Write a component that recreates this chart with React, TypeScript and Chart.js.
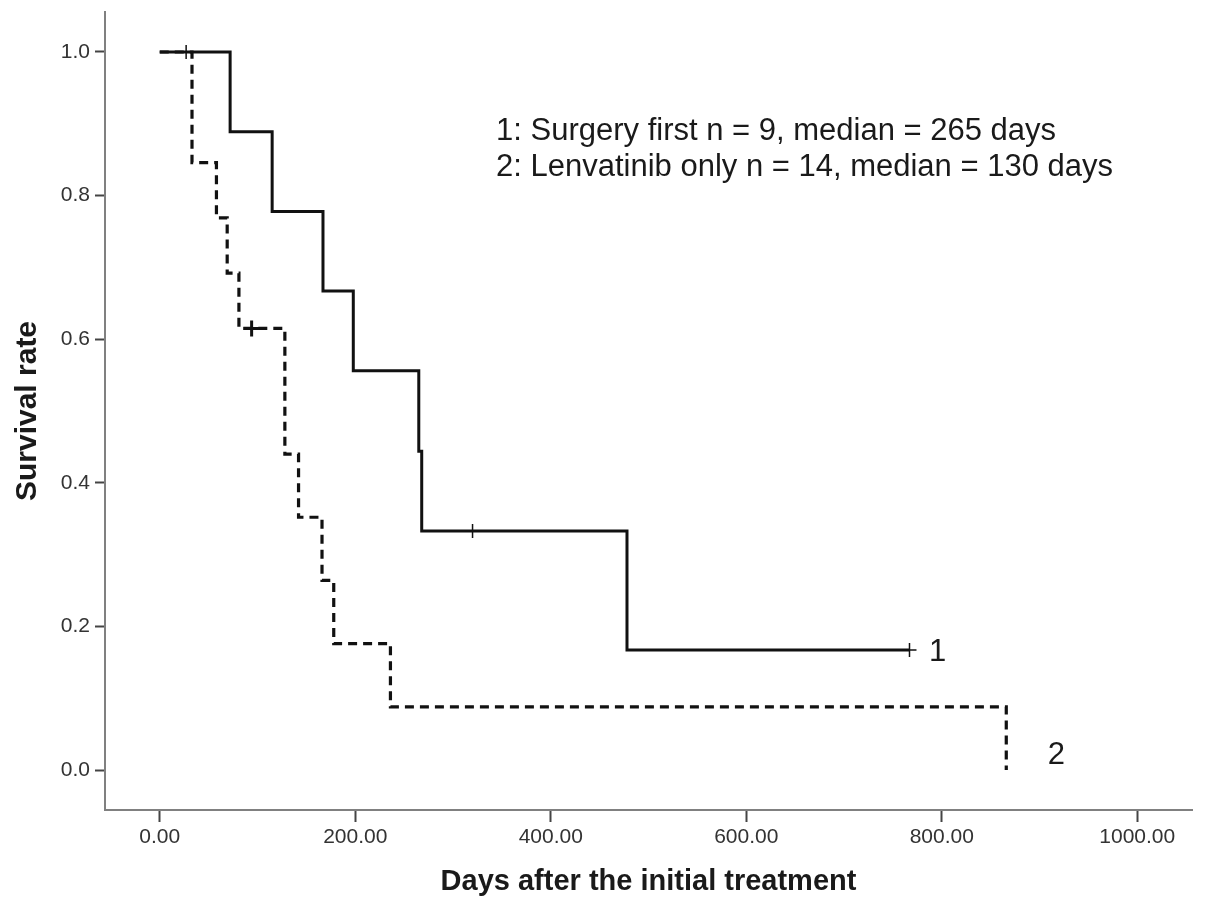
import React, { useEffect, useRef } from "react";
import { Chart, registerables } from "chart.js";

Chart.register(...registerables);

// ---- Data ----
// Group 1: Surgery first (solid)
const surgeryDays = [0, 72, 115, 167, 198, 265, 268, 478, 767];
const surgerySurv = [1.0, 0.889, 0.778, 0.667, 0.556, 0.444, 0.333, 0.167, 0.167];
const surgeryCensorDays = [320, 767];
const surgeryCensorSurv = [0.333, 0.167];

// Group 2: Lenvatinib only (dashed)
const lenvaDays = [0, 33, 58, 69, 81, 128, 142, 166, 178, 236, 866];
const lenvaSurv = [1.0, 0.846, 0.769, 0.692, 0.615, 0.44, 0.352, 0.264, 0.176, 0.088, 0.0];
const lenvaCensorDays = [27, 94];
const lenvaCensorSurv = [1.0, 0.615];

const xTickValues = [0, 200, 400, 600, 800, 1000];
const yTickValues = [0, 0.2, 0.4, 0.6, 0.8, 1.0];

const legendLines = [
  "1: Surgery first n = 9, median = 265 days",
  "2: Lenvatinib only n = 14, median = 130 days",
];
const curveLabels = ["1", "2"];

const xTitle = "Days after the initial treatment";
const yTitle = "Survival rate";

// ---- Layout constants (not data) ----
const FONT = '"Liberation Sans", Arial, Helvetica, sans-serif';
const LEGEND_DAY = 344;
const LEGEND_SURV = 0.889;

const toPoints = (xs: number[], ys: number[]) => xs.map((v, i) => ({ x: v, y: ys[i] }));

const textPlugin = {
  id: "kmText",
  afterDatasetsDraw(chart: any) {
    const { ctx, scales } = chart;
    const x = scales.x;
    const y = scales.y;
    ctx.save();
    ctx.fillStyle = "#1a1a1a";
    ctx.font = `31px ${FONT}`;
    ctx.textBaseline = "middle";
    ctx.textAlign = "left";
    const lx = x.getPixelForValue(LEGEND_DAY);
    const ly = y.getPixelForValue(LEGEND_SURV);
    legendLines.forEach((t, i) => ctx.fillText(t, lx, ly + i * 36));

    ctx.textAlign = "center";
    ctx.font = `31px ${FONT}`;
    const n1 = surgeryDays.length - 1;
    const e1x = x.getPixelForValue(surgeryDays[n1]);
    const e1y = y.getPixelForValue(surgerySurv[n1]);
    ctx.fillText(curveLabels[0], e1x + 28, e1y + 2);
    const n2 = lenvaDays.length - 1;
    const e2x = x.getPixelForValue(lenvaDays[n2]);
    const e2y = y.getPixelForValue(lenvaSurv[n2]);
    ctx.fillText(curveLabels[1], e2x + 50, e2y - 15);
    ctx.restore();
  },
};

export default function App() {
  const ref = useRef<HTMLCanvasElement | null>(null);

  useEffect(() => {
    if (!ref.current) return;
    const chart = new Chart(ref.current, {
      type: "line",
      data: {
        datasets: [
          {
            label: "Surgery first",
            data: toPoints(surgeryDays, surgerySurv),
            stepped: "before",
            borderColor: "#111111",
            borderWidth: 3,
            pointRadius: 0,
            fill: false,
            order: 2,
          },
          {
            label: "Lenvatinib only",
            data: toPoints(lenvaDays, lenvaSurv),
            stepped: "before",
            borderColor: "#111111",
            borderWidth: 3.2,
            borderDash: [9, 6],
            pointRadius: 0,
            fill: false,
            order: 3,
          },
          {
            type: "scatter",
            label: "Censored 1",
            data: toPoints(surgeryCensorDays, surgeryCensorSurv),
            pointStyle: "cross",
            pointRadius: 7,
            borderColor: "#111111",
            pointBorderWidth: 1.5,
            showLine: false,
            order: 1,
          } as any,
          {
            type: "scatter",
            label: "Censored 2",
            data: toPoints(lenvaCensorDays, lenvaCensorSurv),
            pointStyle: "cross",
            pointRadius: [7, 8],
            borderColor: "#111111",
            pointBorderWidth: [1.5, 3],
            showLine: false,
            order: 1,
          } as any,
        ],
      },
      options: {
        animation: false,
        responsive: false,
        devicePixelRatio: 1,
        layout: { padding: { left: 0, top: 12, right: 13, bottom: 0 } },
        plugins: {
          legend: { display: false },
          tooltip: { enabled: false },
        },
        scales: {
          x: {
            type: "linear",
            min: -56,
            max: 1056,
            afterBuildTicks: (scale: any) => {
              scale.ticks = xTickValues.map((v) => ({ value: v }));
            },
            afterFit: (scale: any) => {
              scale.height = 98;
              scale.paddingLeft = 0;
              scale.paddingRight = 0;
            },
            ticks: {
              callback: (v: any) => Number(v).toFixed(2),
              color: "#333333",
              font: { family: FONT, size: 21 },
              padding: 3,
              maxRotation: 0,
              autoSkip: false,
            },
            grid: {
              display: true,
              drawOnChartArea: false,
              drawTicks: true,
              tickLength: 12,
              tickColor: "#444444",
              tickWidth: 2,
            },
            border: { display: true, color: "#808080", width: 2 },
            title: {
              display: true,
              text: xTitle,
              color: "#1a1a1a",
              font: { family: FONT, size: 29, weight: "bold" },
              padding: { top: 0, bottom: 9 },
            },
          },
          y: {
            type: "linear",
            min: -0.0557,
            max: 1.0557,
            afterBuildTicks: (scale: any) => {
              scale.ticks = yTickValues.map((v) => ({ value: v }));
            },
            afterFit: (scale: any) => {
              scale.width = 105;
              scale.paddingTop = 0;
              scale.paddingBottom = 0;
            },
            ticks: {
              callback: (v: any) => Number(v).toFixed(1),
              color: "#333333",
              font: { family: FONT, size: 21 },
              padding: 5,
              autoSkip: false,
            },
            grid: {
              display: true,
              drawOnChartArea: false,
              drawTicks: true,
              tickLength: 10,
              tickColor: "#444444",
              tickWidth: 2,
            },
            border: { display: true, color: "#808080", width: 2 },
            title: {
              display: true,
              text: yTitle,
              color: "#1a1a1a",
              font: { family: FONT, size: 30, weight: "bold" },
              padding: { top: 10, bottom: 0 },
            },
          },
        },
      },
      plugins: [textPlugin],
    } as any);
    return () => chart.destroy();
  }, []);

  return (
    <div style={{ position: "absolute", left: 0, top: 0, width: 1205, height: 908, background: "#ffffff" }}>
      <canvas ref={ref} width={1205} height={908} style={{ width: 1205, height: 908, display: "block" }} />
    </div>
  );
}
